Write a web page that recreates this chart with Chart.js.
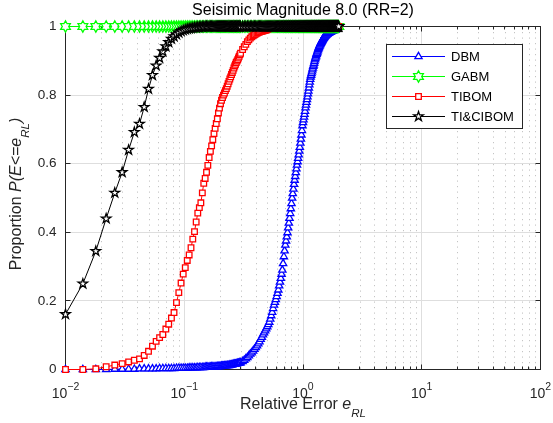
<!DOCTYPE html>
<html>
<head>
<meta charset="utf-8">
<style>
  html, body { margin: 0; padding: 0; background: #fff; }
  canvas { display: block; }
</style>
<script src="https://cdn.jsdelivr.net/npm/chart.js@4.4.0/dist/chart.umd.min.js"></script>
</head>
<body>
<canvas id="cdfChart" width="553" height="423"></canvas>
<script>
// relative error grid e_RL (x values)
const relErr = [
  0.010,0.014,0.018,0.022,0.026,0.030,0.034,0.038,0.042,0.046,
  0.050,0.054,0.058,0.062,0.066,0.070,0.074,0.078,0.082,0.086,
  0.090,0.094,0.098,0.102,0.106,0.110,0.114,0.118,0.122,0.126,
  0.130,0.134,0.138,0.142,0.146,0.150,0.154,0.158,0.162,0.166,
  0.170,0.174,0.178,0.182,0.186,0.190,0.194,0.198,0.202,0.206,
  0.210,0.214,0.218,0.222,0.226,0.230,0.234,0.238,0.242,0.246,
  0.250,0.254,0.258,0.262,0.266,0.270,0.274,0.278,0.282,0.286,
  0.290,0.294,0.298,
  0.31,0.32,0.33,0.34,0.35,0.36,0.37,0.38,0.39,0.40,
  0.41,0.42,0.43,0.44,0.45,0.46,0.47,0.48,0.49,0.50,
  0.51,0.52,0.53,0.54,0.55,0.56,0.57,0.58,0.59,0.60,
  0.61,0.62,0.63,0.64,0.65,0.66,0.67,0.68,0.69,0.70,
  0.71,0.72,0.73,0.74,0.75,0.76,0.77,0.78,0.79,0.80,
  0.81,0.82,0.83,0.84,0.85,0.86,0.87,0.88,0.89,0.90,
  0.91,0.92,0.93,0.94,0.95,0.96,0.97,0.98,0.99,1.00,
  1.01,1.02,1.03,1.04,1.05,1.06,1.07,1.08,1.09,1.10,
  1.11,1.12,1.13,1.14,1.15,1.16,1.17,1.18,1.19,1.20,
  1.21,1.22,1.23,1.24,1.25,1.26,1.27,1.28,1.29,1.30,
  1.31,1.32,1.33,1.34,1.35,1.36,1.37,1.38,1.39,1.40,
  1.41,1.42,1.43,1.44,1.45,1.46,1.47,1.48,1.49,1.50,
  1.51,1.52,1.53,1.54,1.55,1.56,1.57,1.58,1.59,1.60,
  1.61,1.62,1.63,1.64,1.65,1.66,1.67,1.68,1.69,1.70,
  1.71,1.72,1.73,1.74,1.75,1.76,1.77,1.78,1.79,1.80,
  1.81,1.82,1.83,1.84,1.85,1.86,1.87,1.88,1.89,1.90,
  1.91,1.92,1.93,1.94,1.95,1.96,1.97,1.98,1.99,2.00
];

// P(E <= e_RL) per method, same row layout as relErr
const dbm = [
  0,0,0,0,0.001,0.001,0.001,0.001,0.002,0.002,
  0.002,0.002,0.002,0.003,0.003,0.003,0.003,0.003,0.003,0.004,
  0.004,0.004,0.004,0.004,0.004,0.005,0.005,0.005,0.005,0.005,
  0.006,0.006,0.006,0.006,0.006,0.007,0.007,0.007,0.007,0.007,
  0.008,0.008,0.008,0.008,0.008,0.009,0.009,0.009,0.009,0.010,
  0.010,0.010,0.011,0.011,0.011,0.012,0.012,0.012,0.013,0.013,
  0.014,0.014,0.015,0.015,0.016,0.016,0.017,0.017,0.018,0.018,
  0.019,0.020,0.020,
  0.023,0.027,0.031,0.035,0.040,0.045,0.049,0.054,0.059,0.064,
  0.069,0.075,0.081,0.088,0.094,0.101,0.107,0.113,0.119,0.125,
  0.131,0.138,0.147,0.157,0.167,0.178,0.188,0.196,0.204,0.213,
  0.222,0.232,0.244,0.255,0.266,0.278,0.290,0.309,0.329,0.346,
  0.363,0.375,0.387,0.399,0.413,0.427,0.441,0.455,0.469,0.484,
  0.500,0.513,0.526,0.540,0.552,0.563,0.574,0.585,0.596,0.606,
  0.616,0.626,0.637,0.648,0.660,0.672,0.684,0.697,0.711,0.720,
  0.728,0.736,0.744,0.753,0.763,0.771,0.779,0.787,0.795,0.804,
  0.812,0.821,0.830,0.838,0.846,0.853,0.858,0.863,0.868,0.874,
  0.879,0.884,0.888,0.893,0.898,0.903,0.907,0.911,0.915,0.919,
  0.922,0.926,0.929,0.933,0.936,0.939,0.942,0.944,0.947,0.949,
  0.951,0.953,0.955,0.957,0.959,0.961,0.963,0.965,0.966,0.968,
  0.969,0.971,0.972,0.973,0.974,0.975,0.976,0.977,0.978,0.978,
  0.979,0.980,0.980,0.981,0.982,0.982,0.983,0.983,0.984,0.984,
  0.985,0.985,0.986,0.986,0.987,0.987,0.987,0.988,0.988,0.988,
  0.989,0.989,0.989,0.990,0.990,0.990,0.991,0.991,0.992,0.993,
  0.994,0.995,0.996,0.997,0.997,0.998,0.998,0.999,0.999,1.000
];

const gabm = [
  1,1,1,1,1,1,1,1,1,1,  // 0.010-0.046
  1,1,1,1,1,1,1,1,1,1,  // 0.050-0.086
  1,1,1,1,1,1,1,1,1,1,  // 0.090-0.126
  1,1,1,1,1,1,1,1,1,1,  // 0.130-0.166
  1,1,1,1,1,1,1,1,1,1,  // 0.170-0.206
  1,1,1,1,1,1,1,1,1,1,  // 0.210-0.246
  1,1,1,1,1,1,1,1,1,1,  // 0.250-0.286
  1,1,1,                // 0.290-0.298
  1,1,1,1,1,1,1,1,1,1,  // 0.31-0.40
  1,1,1,1,1,1,1,1,1,1,  // 0.41-0.50
  1,1,1,1,1,1,1,1,1,1,  // 0.51-0.60
  1,1,1,1,1,1,1,1,1,1,  // 0.61-0.70
  1,1,1,1,1,1,1,1,1,1,  // 0.71-0.80
  1,1,1,1,1,1,1,1,1,1,  // 0.81-0.90
  1,1,1,1,1,1,1,1,1,1,  // 0.91-1.00
  1,1,1,1,1,1,1,1,1,1,  // 1.01-1.10
  1,1,1,1,1,1,1,1,1,1,  // 1.11-1.20
  1,1,1,1,1,1,1,1,1,1,  // 1.21-1.30
  1,1,1,1,1,1,1,1,1,1,  // 1.31-1.40
  1,1,1,1,1,1,1,1,1,1,  // 1.41-1.50
  1,1,1,1,1,1,1,1,1,1,  // 1.51-1.60
  1,1,1,1,1,1,1,1,1,1,  // 1.61-1.70
  1,1,1,1,1,1,1,1,1,1,  // 1.71-1.80
  1,1,1,1,1,1,1,1,1,1,  // 1.81-1.90
  1,1,1,1,1,1,1,1,1,1   // 1.91-2.00
];

const tibom = [
  0,0,0.002,0.008,0.013,0.017,0.022,0.027,0.031,0.041,         // 0.010-0.046
  0.053,0.068,0.082,0.093,0.102,0.118,0.132,0.150,0.166,0.195, // 0.050-0.086
  0.224,0.252,0.278,0.297,0.318,0.334,0.355,0.380,0.402,0.430, // 0.090-0.126
  0.456,0.472,0.486,0.515,0.543,0.557,0.575,0.595,0.618,0.636, // 0.130-0.166
  0.652,0.670,0.688,0.703,0.717,0.731,0.748,0.762,0.775,0.785, // 0.170-0.206
  0.793,0.800,0.806,0.813,0.819,0.826,0.833,0.840,0.847,0.853, // 0.210-0.246
  0.860,0.866,0.872,0.879,0.885,0.890,0.895,0.899,0.903,0.908, // 0.250-0.286
  0.913,0.918,0.922,                                           // 0.290-0.298
  0.933,0.941,0.948,0.956,0.961,0.966,0.970,0.973,0.976,0.978, // 0.31-0.40
  0.980,0.982,0.984,0.985,0.986,0.987,0.988,0.989,0.990,0.992, // 0.41-0.50
  0.993,0.995,0.996,0.998,0.999,1,1,1,1,1,                     // 0.51-0.60
  1,1,1,1,1,1,1,1,1,1,  // 0.61-0.70
  1,1,1,1,1,1,1,1,1,1,  // 0.71-0.80
  1,1,1,1,1,1,1,1,1,1,  // 0.81-0.90
  1,1,1,1,1,1,1,1,1,1,  // 0.91-1.00
  1,1,1,1,1,1,1,1,1,1,  // 1.01-1.10
  1,1,1,1,1,1,1,1,1,1,  // 1.11-1.20
  1,1,1,1,1,1,1,1,1,1,  // 1.21-1.30
  1,1,1,1,1,1,1,1,1,1,  // 1.31-1.40
  1,1,1,1,1,1,1,1,1,1,  // 1.41-1.50
  1,1,1,1,1,1,1,1,1,1,  // 1.51-1.60
  1,1,1,1,1,1,1,1,1,1,  // 1.61-1.70
  1,1,1,1,1,1,1,1,1,1,  // 1.71-1.80
  1,1,1,1,1,1,1,1,1,1,  // 1.81-1.90
  1,1,1,1,1,1,1,1,1,1   // 1.91-2.00
];

const ticibom = [
  0.161,0.250,0.345,0.440,0.515,0.575,0.640,0.692,0.716,0.765, // 0.010-0.046
  0.818,0.858,0.886,0.908,0.927,0.942,0.954,0.964,0.971,0.977, // 0.050-0.086
  0.982,0.986,0.989,0.991,0.993,0.994,0.995,0.996,0.997,0.997, // 0.090-0.126
  0.998,0.998,0.999,0.999,0.999,1,1,1,1,1,                     // 0.130-0.166
  1,1,1,1,1,1,1,1,1,1,  // 0.170-0.206
  1,1,1,1,1,1,1,1,1,1,  // 0.210-0.246
  1,1,1,1,1,1,1,1,1,1,  // 0.250-0.286
  1,1,1,                // 0.290-0.298
  1,1,1,1,1,1,1,1,1,1,  // 0.31-0.40
  1,1,1,1,1,1,1,1,1,1,  // 0.41-0.50
  1,1,1,1,1,1,1,1,1,1,  // 0.51-0.60
  1,1,1,1,1,1,1,1,1,1,  // 0.61-0.70
  1,1,1,1,1,1,1,1,1,1,  // 0.71-0.80
  1,1,1,1,1,1,1,1,1,1,  // 0.81-0.90
  1,1,1,1,1,1,1,1,1,1,  // 0.91-1.00
  1,1,1,1,1,1,1,1,1,1,  // 1.01-1.10
  1,1,1,1,1,1,1,1,1,1,  // 1.11-1.20
  1,1,1,1,1,1,1,1,1,1,  // 1.21-1.30
  1,1,1,1,1,1,1,1,1,1,  // 1.31-1.40
  1,1,1,1,1,1,1,1,1,1,  // 1.41-1.50
  1,1,1,1,1,1,1,1,1,1,  // 1.51-1.60
  1,1,1,1,1,1,1,1,1,1,  // 1.61-1.70
  1,1,1,1,1,1,1,1,1,1,  // 1.71-1.80
  1,1,1,1,1,1,1,1,1,1,  // 1.81-1.90
  1,1,1,1,1,1,1,1,1,1   // 1.91-2.00
];

const seriesNames = ["DBM", "GABM", "TIBOM", "TI&CIBOM"];
const xTickVals = [0.01, 0.1, 1, 10, 100];
const xTickExp = ["\u22122", "\u22121", "0", "1", "2"];
const yTickVals = [0, 0.2, 0.4, 0.6, 0.8, 1];

const FONT = "'Liberation Sans', Arial, Helvetica, sans-serif";
const AXIS_COL = "#262626";
const MARK_W = 1.3;

const toPts = vals => relErr.map((e, i) => ({ x: e, y: vals[i] }));

// five / six pointed star outline (MATLAB 'p' and 'h' markers)
function starPath(ctx, x, y, n, rOut, rIn) {
  ctx.beginPath();
  for (let k = 0; k < 2 * n; k++) {
    const r = k % 2 ? rIn : rOut;
    const a = -Math.PI / 2 + k * Math.PI / n;
    const px = x + r * Math.cos(a), py = y + r * Math.sin(a);
    if (k) ctx.lineTo(px, py); else ctx.moveTo(px, py);
  }
  ctx.closePath();
}

function drawMarker(ctx, kind, x, y, color) {
  ctx.save();
  ctx.fillStyle = "#fff";
  ctx.strokeStyle = color;
  ctx.lineWidth = MARK_W;
  if (kind === "triangle") {
    const r = 4.2;
    ctx.beginPath();
    ctx.moveTo(x, y - r);
    ctx.lineTo(x + r * Math.sin(2 * Math.PI / 3), y + r / 2);
    ctx.lineTo(x - r * Math.sin(2 * Math.PI / 3), y + r / 2);
    ctx.closePath();
  } else if (kind === "rect") {
    ctx.beginPath();
    ctx.rect(x - 2.8, y - 2.8, 5.6, 5.6);
  } else if (kind === "hexagram") {
    starPath(ctx, x, y, 6, 5.6, 5.6 / Math.sqrt(3));
  } else {
    starPath(ctx, x, y, 5, 5, 5 * 0.382);
  }
  ctx.fill();
  ctx.stroke();
  ctx.restore();
}

function richText(ctx, parts, cx, base, size) {
  const fontOf = p => (p.it ? "italic " : "") + (p.sub ? size * 0.72 : size) + "px " + FONT;
  let total = 0;
  parts.forEach(p => { ctx.font = fontOf(p); p.w = ctx.measureText(p.t).width; total += p.w; });
  let xx = cx - total / 2;
  ctx.textAlign = "left";
  ctx.textBaseline = "alphabetic";
  parts.forEach(p => {
    ctx.font = fontOf(p);
    ctx.fillText(p.t, xx, base + (p.sub ? 8 : 0));
    xx += p.w;
  });
}

const matlabLook = {
  id: "matlabLook",
  beforeDatasetsDraw(chart) {
    const { ctx, chartArea: a, scales: { x, y } } = chart;
    ctx.save();
    ctx.lineWidth = 1;
    const vline = px => { ctx.beginPath(); ctx.moveTo(px, a.top); ctx.lineTo(px, a.bottom); ctx.stroke(); };
    const hline = py => { ctx.beginPath(); ctx.moveTo(a.left, py); ctx.lineTo(a.right, py); ctx.stroke(); };

    // minor grid (dotted) on the log axis
    const minor = [];
    for (let d = -2; d < 2; d++) for (let k = 2; k <= 9; k++) minor.push(k * Math.pow(10, d));
    ctx.strokeStyle = "#c4c4c4";
    ctx.setLineDash([1.2, 4.3]);
    minor.forEach(v => vline(Math.round(x.getPixelForValue(v)) + 0.5));
    ctx.setLineDash([]);

    // major grid
    ctx.strokeStyle = "#dedede";
    xTickVals.forEach(v => vline(Math.round(x.getPixelForValue(v) - 0.5) + 0.5));
    yTickVals.forEach(v => hline(Math.round(y.getPixelForValue(v) - 0.5) + 0.5));

    // box and inward ticks
    ctx.strokeStyle = AXIS_COL;
    ctx.strokeRect(a.left, a.top, a.right - a.left, a.bottom - a.top);
    ctx.beginPath();
    const tickX = (v, len) => {
      const px = Math.round(x.getPixelForValue(v) - 0.5) + 0.5;
      ctx.moveTo(px, a.bottom); ctx.lineTo(px, a.bottom - len);
      ctx.moveTo(px, a.top); ctx.lineTo(px, a.top + len);
    };
    xTickVals.forEach(v => tickX(v, 5));
    minor.forEach(v => tickX(v, 3));
    yTickVals.forEach(v => {
      const py = Math.round(y.getPixelForValue(v) - 0.5) + 0.5;
      ctx.moveTo(a.left, py); ctx.lineTo(a.left + 5, py);
      ctx.moveTo(a.right, py); ctx.lineTo(a.right - 5, py);
    });
    ctx.stroke();
    ctx.restore();
  },
  afterDatasetDraw(chart, args) {
    const ds = chart.data.datasets[args.index];
    if (!ds.marker) return;
    const ctx = chart.ctx;
    args.meta.data.forEach(pt => {
      if (!pt.skip) drawMarker(ctx, ds.marker, pt.x, pt.y, ds.borderColor);
    });
  },
  afterDraw(chart) {
    const { ctx, chartArea: a, scales: { x } } = chart;
    ctx.save();

    // x tick labels 10^n
    ctx.fillStyle = AXIS_COL;
    ctx.textBaseline = "alphabetic";
    ctx.textAlign = "left";
    xTickVals.forEach((v, i) => {
      const px = x.getPixelForValue(v);
      ctx.font = "14px " + FONT;
      const w1 = ctx.measureText("10").width;
      ctx.font = "10.5px " + FONT;
      const w2 = ctx.measureText(xTickExp[i]).width;
      const x0 = px - (w1 + w2) / 2;
      ctx.font = "14px " + FONT;
      ctx.fillText("10", x0, a.bottom + 28);
      ctx.font = "10.5px " + FONT;
      ctx.fillText(xTickExp[i], x0 + w1, a.bottom + 20.5);
    });

    // axis labels
    const cx = (a.left + a.right) / 2;
    richText(ctx, [
      { t: "Relative Error " }, { t: "e", it: true }, { t: "RL", it: true, sub: true }
    ], cx, a.bottom + 39, 16);
    ctx.save();
    ctx.translate(21, (a.top + a.bottom) / 2 - 4);
    ctx.rotate(-Math.PI / 2);
    richText(ctx, [
      { t: "Proportion " }, { t: "P(E<=e", it: true }, { t: "RL", it: true, sub: true }, { t: ")", it: true }
    ], 0, 0, 16);
    ctx.restore();

    // title
    ctx.fillStyle = "#000";
    ctx.font = "16px " + FONT;
    ctx.textAlign = "center";
    ctx.fillText("Seisimic Magnitude 8.0 (RR=2)", cx, 15);

    // legend
    const lx = 386.5, ly = 44.5, lw = 136, lh = 84;
    ctx.fillStyle = "#fff";
    ctx.fillRect(lx, ly, lw, lh);
    ctx.strokeStyle = AXIS_COL;
    ctx.lineWidth = 1;
    ctx.strokeRect(lx, ly, lw, lh);
    chart.data.datasets.forEach((ds, i) => {
      const ry = ly + 12 + 20 * i;
      ctx.strokeStyle = ds.borderColor;
      ctx.lineWidth = 1;
      ctx.beginPath();
      ctx.moveTo(lx + 5.5, ry); ctx.lineTo(lx + 58.5, ry);
      ctx.stroke();
      drawMarker(ctx, ds.legendMarker, lx + 32, ry, ds.borderColor);
      ctx.fillStyle = "#000";
      ctx.font = "13px " + FONT;
      ctx.textAlign = "left";
      ctx.textBaseline = "middle";
      ctx.fillText(ds.label, lx + 64.5, ry + 0.5);
    });
    ctx.restore();
  }
};

const ctx = document.getElementById("cdfChart").getContext("2d");
const cdfChart = new Chart(ctx, {
  type: "line",
  data: {
    datasets: [
      { label: seriesNames[0], data: toPts(dbm), borderColor: "#0000ff", order: 4,
        pointRadius: 0, marker: "triangle", legendMarker: "triangle" },
      { label: seriesNames[1], data: toPts(gabm), borderColor: "#00ff00", order: 3,
        pointRadius: 0, marker: "hexagram", legendMarker: "hexagram" },
      { label: seriesNames[2], data: toPts(tibom), borderColor: "#ff0000", order: 2,
        pointRadius: 0, marker: "rect", legendMarker: "rect" },
      { label: seriesNames[3], data: toPts(ticibom), borderColor: "#000000", order: 1,
        pointRadius: 0, marker: "pentagram", legendMarker: "pentagram" }
    ].map(d => Object.assign({ borderWidth: 1, tension: 0, clip: false, pointHoverRadius: 0 }, d))
  },
  options: {
    responsive: false,
    devicePixelRatio: 1,
    animation: false,
    events: [],
    layout: { padding: { left: 0, right: 12.5, top: 26.5, bottom: 0 } },
    plugins: { legend: { display: false }, tooltip: { enabled: false } },
    scales: {
      x: {
        type: "logarithmic", min: 0.01, max: 100,
        grid: { display: false, drawTicks: false },
        border: { display: false },
        ticks: { display: false },
        afterFit: s => { s.height = 53.5; }
      },
      y: {
        type: "linear", min: 0, max: 1,
        grid: { display: false, drawTicks: false },
        border: { display: false },
        afterBuildTicks: s => { s.ticks = yTickVals.map(v => ({ value: v })); },
        ticks: {
          padding: 9, color: AXIS_COL,
          font: { family: FONT, size: 13.5 },
          callback: v => String(Number(v.toFixed(1)))
        },
        afterFit: s => { s.width = 65.5; }
      }
    }
  },
  plugins: [matlabLook]
});
</script>
</body>
</html>
